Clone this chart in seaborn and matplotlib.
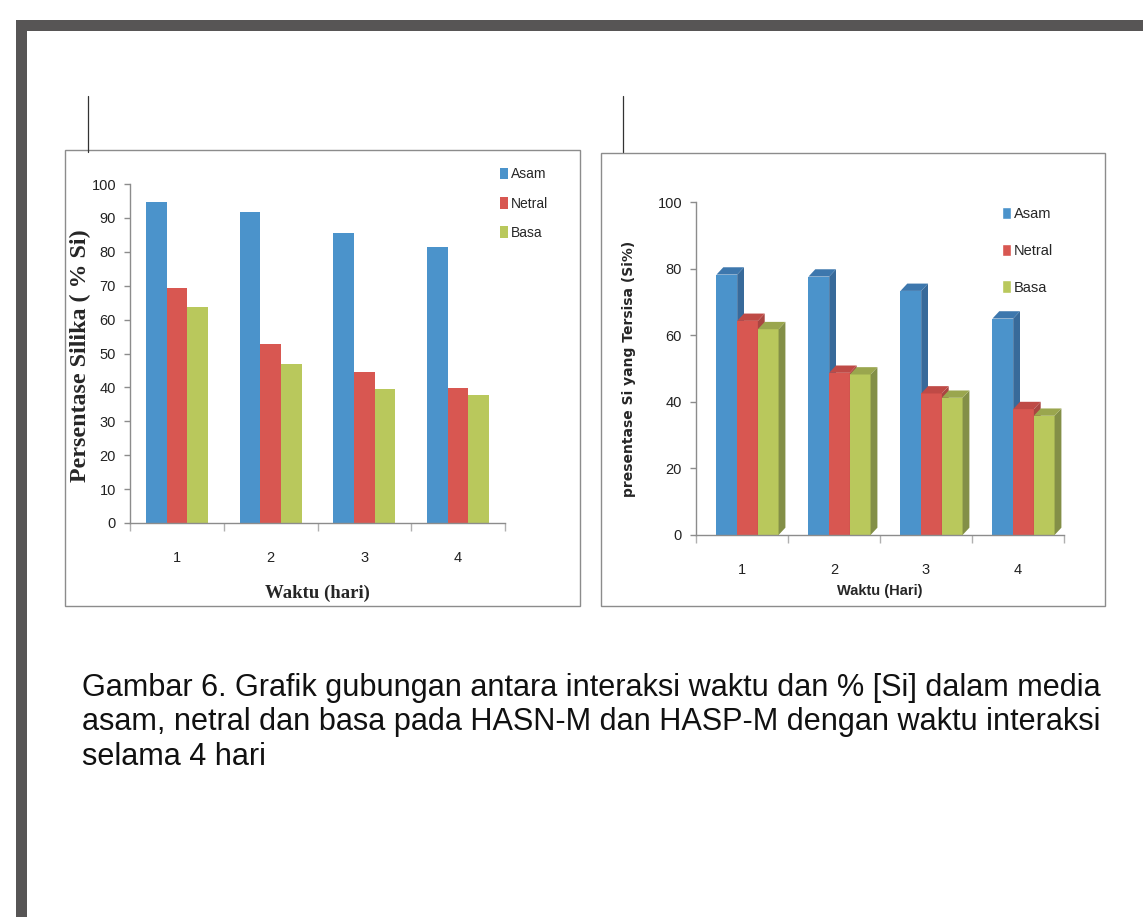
import numpy as np
import pandas as pd
import matplotlib
matplotlib.use("Agg")
import matplotlib.pyplot as plt
from matplotlib import font_manager
from matplotlib.patches import Rectangle, Polygon
from matplotlib.lines import Line2D
import seaborn as sns

# data
days = ["1", "2", "3", "4"]
media = ["Asam", "Netral", "Basa"]

# left chart: HASN-M
hasn_asam = [94.7, 91.8, 85.5, 81.4]
hasn_netral = [69.3, 52.7, 44.4, 39.7]
hasn_basa = [63.6, 46.8, 39.4, 37.9]

# right chart: HASP-M
hasp_asam = [78.2, 77.6, 73.3, 65.0]
hasp_netral = [64.3, 48.7, 42.5, 37.8]
hasp_basa = [61.8, 48.2, 41.2, 35.8]

left_yticks = list(range(0, 101, 10))
right_yticks = list(range(0, 101, 20))

caption = ("Gambar 6. Grafik gubungan antara interaksi waktu dan % [Si] dalam media\n"
           "asam, netral dan basa pada HASN-M dan HASP-M dengan waktu interaksi\n"
           "selama 4 hari")

colors = ["#4b93cb", "#d85751", "#b9c85c"]
side_colors = ["#386a9a", "#a94541", "#838f47"]
top_colors = ["#3d77ad", "#bf4a46", "#9aa64e"]

sns.set_theme(style="white")
names = {f.name for f in font_manager.fontManager.ttflist}
narrow = "Liberation Sans Narrow" if "Liberation Sans Narrow" in names else "Liberation Sans"
plt.rcParams["font.family"] = ["Liberation Sans", "DejaVu Sans"]


def long_table(a, n, b):
    rows = []
    for vals, m in zip([a, n, b], media):
        for d, v in zip(days, vals):
            rows.append({"Waktu": d, "Media": m, "Nilai": v})
    return pd.DataFrame(rows)


W, H = 1143, 917
fig = plt.figure(figsize=(W / 100, H / 100), dpi=100)


def px_axes(x0, y0, x1, y1):
    return fig.add_axes([x0 / W, 1 - y1 / H, (x1 - x0) / W, (y1 - y0) / H])


def px_rect(x0, y0, x1, y1, **kw):
    fig.patches.append(Rectangle((x0 / W, 1 - y1 / H), (x1 - x0) / W, (y1 - y0) / H,
                                 transform=fig.transFigure, **kw))


# page frame
px_rect(16, 20, W + 5, 31, facecolor="#575555", edgecolor="none")
px_rect(16, 20, 27, H + 5, facecolor="#575555", edgecolor="none")
for x in (88, 623):
    fig.lines.append(Line2D([x / W, x / W], [1 - 96 / H, 1 - 152 / H],
                            transform=fig.transFigure, color="#333333", lw=0.9))

# chart boxes
px_rect(65, 150, 580, 606, facecolor="none", edgecolor="#8c8c8c", lw=1.0)
px_rect(601, 153, 1105, 606, facecolor="none", edgecolor="#8c8c8c", lw=1.0)


def style_axes(ax, yticks):
    ax.set_ylim(0, 100)
    ax.set_xlim(-0.5, 3.5)
    ax.set_yticks(yticks)
    for s in ["top", "right"]:
        ax.spines[s].set_visible(False)
    for s in ["left", "bottom"]:
        ax.spines[s].set_color("#8c8c8c")
        ax.spines[s].set_linewidth(1.0)
    ax.tick_params(axis="y", left=True, length=4, width=1, color="#8c8c8c",
                   labelsize=10.5, pad=6, labelcolor="#222222")
    ax.tick_params(axis="x", bottom=False, labelsize=10.5, pad=14, labelcolor="#222222")
    for t in ax.get_xticklabels() + ax.get_yticklabels():
        t.set_fontfamily(narrow)
    # category separators below the axis
    ax.set_xticks([-0.5, 0.5, 1.5, 2.5, 3.5], minor=True)
    ax.tick_params(axis="x", which="minor", bottom=True, direction="out",
                   length=6, width=1, color="#b0b0b0")
    ax.set_facecolor("none")


# left chart
ax1 = px_axes(130, 184, 505, 523)
df1 = long_table(hasn_asam, hasn_netral, hasn_basa)
sns.barplot(data=df1, x="Waktu", y="Nilai", hue="Media", palette=colors,
            width=0.66, gap=0, saturation=1, ax=ax1, legend=True)
style_axes(ax1, left_yticks)
ax1.set_xlabel("Waktu (hari)", fontfamily="Liberation Serif", fontweight="bold",
               fontsize=13.5)
ax1.xaxis.set_label_coords(0.499, -0.181)
ax1.set_ylabel("Persentase Silika ( % Si)", fontfamily="Liberation Serif",
               fontweight="bold", fontsize=17.3)
ax1.yaxis.set_label_coords(-0.104, 0.493)
for p in ax1.patches:
    p.set_edgecolor("none")
h, l = ax1.get_legend_handles_labels()
ax1.legend(h, l, loc="upper left", bbox_to_anchor=(487 / W, 1 - 155 / H),
           bbox_transform=fig.transFigure, frameon=False, handlelength=0.6,
           handleheight=0.9, handletextpad=0.2, labelspacing=1.1,
           prop={"family": narrow, "size": 10})

# right chart (3D-looking columns)
ax2 = px_axes(696, 202, 1064, 535)
df2 = long_table(hasp_asam, hasp_netral, hasp_basa)
sns.barplot(data=df2, x="Waktu", y="Nilai", hue="Media", palette=colors,
            width=0.675, gap=0, saturation=1, ax=ax2, legend=True)
style_axes(ax2, right_yticks)
ax2.set_xlabel("Waktu (Hari)", fontfamily=narrow, fontweight="bold", fontsize=10.5)
ax2.xaxis.set_label_coords(0.5, -0.148)
ax2.set_ylabel("presentase Si yang Tersisa (Si%)", fontfamily="DejaVu Sans",
               fontweight="bold", fontsize=10)
ax2.yaxis.set_label_coords(-0.163, 0.5)

bars = [p for p in ax2.patches if p.get_height() > 0]
dx_frac, dy = 0.33, 2.2
for p in bars:
    p.set_edgecolor("none")
    p.set_x(p.get_x() + 0.06)
    c = colors.index(matplotlib.colors.to_hex(p.get_facecolor()))
    z = 2 + c * 0.2
    p.set_zorder(z)
    x0, w, top = p.get_x(), p.get_width(), p.get_height()
    dx = w * dx_frac
    side = Polygon([(x0 + w, 0), (x0 + w + dx, dy), (x0 + w + dx, top + dy), (x0 + w, top)],
                   closed=True, facecolor=side_colors[c], edgecolor="none", zorder=z + 0.1)
    topf = Polygon([(x0, top), (x0 + dx, top + dy), (x0 + w + dx, top + dy), (x0 + w, top)],
                   closed=True, facecolor=top_colors[c], edgecolor="none", zorder=z + 0.1)
    ax2.add_patch(side)
    ax2.add_patch(topf)
h, l = ax2.get_legend_handles_labels()
ax2.legend(h, l, loc="upper left", bbox_to_anchor=(989 / W, 1 - 194 / H),
           bbox_transform=fig.transFigure, frameon=False, handlelength=0.6,
           handleheight=0.9, handletextpad=0.2, labelspacing=1.55,
           prop={"family": narrow, "size": 10.5})

# caption
fig.text(82 / W, 1 - 673 / H, caption, ha="left", va="top", fontsize=22.05,
         fontfamily="Liberation Sans", color="#111111", linespacing=1.19)

fig.savefig("out.png", dpi=100)
